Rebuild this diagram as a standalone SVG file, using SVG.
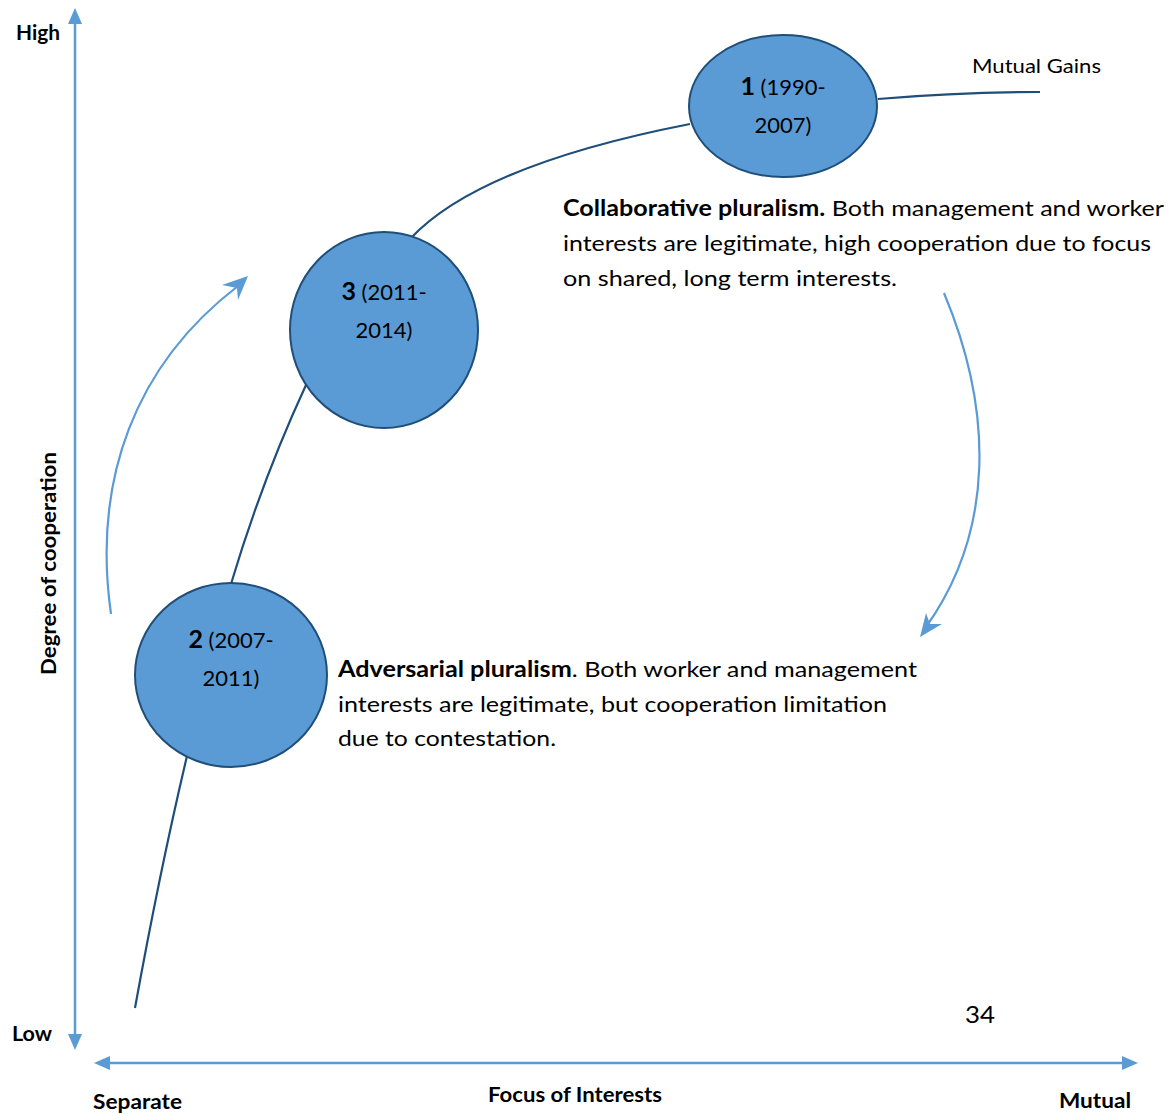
<svg xmlns="http://www.w3.org/2000/svg" width="1169" height="1114" viewBox="0 0 1169 1114">
<defs>
<style>
text{font-family:Lato,"Open Sans","Liberation Sans",sans-serif;fill:#000}
.lbl{font-size:20px;font-weight:bold}
.body{font-size:22px}
.node{fill:#5b9bd5;stroke:#1f4e79;stroke-width:2}
.curve{fill:none;stroke:#1f4e79;stroke-width:2.2}
.axis{fill:none;stroke:#5b9bd5;stroke-width:2.5}
.arc{fill:none;stroke:#5b9bd5;stroke-width:2.2}
.head{fill:#5b9bd5}
</style>
</defs>
<g id="connectors">
<path d="M75,1035 L75,24" class="axis"/>
<path class="head" d="M68,24 L75,8 L82,24 z"/>
<path class="head" d="M68,1034 L75,1050 L82,1034 z"/>
<path d="M110,1063 L1122,1063" class="axis"/>
<path class="head" d="M110,1056 L94,1063 L110,1070 z"/>
<path class="head" d="M1122,1056 L1138,1063 L1122,1070 z"/>
<path class="curve" d="M135,1008 Q160,870 187,756"/>
<path class="curve" d="M231,584 Q262,480 306,385"/>
<path class="curve" d="M411,238 Q480,165 690,124"/>
<path class="curve" d="M878,99 Q960,92 1040,92"/>
<path class="arc" d="M111,614 C92,480 135,365 238,286"/>
<path class="head" d="M222,285 L248,276 L238,300 L237,288 z"/>
<path class="arc" d="M944,293 C993,410 995,530 926,627"/>
<path class="head" d="M920,637 L926,613 L930,624 L942,624 z"/>
</g>
<g id="node1">
<ellipse class="node" cx="783" cy="106" rx="94" ry="71"/>
<text x="783" y="95" text-anchor="middle" class="body"><tspan font-weight="bold" font-size="25">1</tspan> (1990-</text>
<text x="783" y="133" text-anchor="middle" class="body">2007)</text>
</g>
<g id="node3">
<ellipse class="node" cx="384" cy="330" rx="94" ry="98"/>
<text x="384" y="300" text-anchor="middle" class="body"><tspan font-weight="bold" font-size="25">3</tspan> (2011-</text>
<text x="384" y="338" text-anchor="middle" class="body">2014)</text>
</g>
<g id="node2">
<ellipse class="node" cx="231" cy="675" rx="96" ry="92"/>
<text x="231" y="648" text-anchor="middle" class="body"><tspan font-weight="bold" font-size="25">2</tspan> (2007-</text>
<text x="231" y="686" text-anchor="middle" class="body">2011)</text>
</g>
<g id="labels">
<text x="16" y="40" class="lbl" textLength="44" lengthAdjust="spacingAndGlyphs">High</text>
<text x="12" y="1041" class="lbl" textLength="40" lengthAdjust="spacingAndGlyphs">Low</text>
<text x="93" y="1109" class="lbl" textLength="89" lengthAdjust="spacingAndGlyphs">Separate</text>
<text x="488" y="1102" class="lbl" textLength="174" lengthAdjust="spacingAndGlyphs">Focus of Interests</text>
<text x="1059" y="1108" class="lbl" textLength="72" lengthAdjust="spacingAndGlyphs">Mutual</text>
<text transform="translate(56,675) rotate(-90)" class="lbl" textLength="223" lengthAdjust="spacingAndGlyphs">Degree of cooperation</text>
<text x="972" y="73" font-size="20" textLength="129" lengthAdjust="spacingAndGlyphs">Mutual Gains</text>
<text x="965" y="1023" font-size="24" textLength="30" lengthAdjust="spacingAndGlyphs">34</text>
<text x="563" y="216" class="body" textLength="601" lengthAdjust="spacingAndGlyphs"><tspan font-weight="bold">Collaborative pluralism.</tspan> Both management and worker</text>
<text x="563" y="251" class="body" textLength="588" lengthAdjust="spacingAndGlyphs">interests are legitimate, high cooperation due to focus</text>
<text x="563" y="286" class="body" textLength="334" lengthAdjust="spacingAndGlyphs">on shared, long term interests.</text>
<text x="338" y="677" class="body" textLength="579" lengthAdjust="spacingAndGlyphs"><tspan font-weight="bold">Adversarial pluralism</tspan>. Both worker and management</text>
<text x="338" y="712" class="body" textLength="549" lengthAdjust="spacingAndGlyphs">interests are legitimate, but cooperation limitation</text>
<text x="338" y="746" class="body" textLength="218" lengthAdjust="spacingAndGlyphs">due to contestation.</text>
</g>
</svg>
